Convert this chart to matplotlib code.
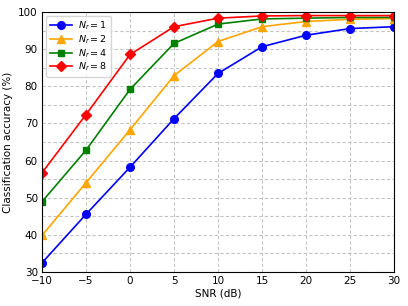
import matplotlib
matplotlib.use('Agg')
import matplotlib.pyplot as plt
from matplotlib.ticker import MultipleLocator

snr = [-10, -5, 0, 5, 10, 15, 20, 25, 30]
acc_nr1 = [32.4, 45.5, 58.2, 71.3, 83.5, 90.7, 93.8, 95.6, 96.1]
acc_nr2 = [39.8, 54.0, 68.3, 82.9, 92.1, 96.1, 97.5, 98.1, 98.3]
acc_nr4 = [48.9, 62.8, 79.2, 91.6, 96.8, 98.2, 98.4, 98.6, 98.6]
acc_nr8 = [56.7, 72.4, 88.6, 96.1, 98.4, 99.0, 99.1, 99.1, 99.1]
labels = [r'$N_r=1$', r'$N_r=2$', r'$N_r=4$', r'$N_r=8$']

plt.rcParams['font.size'] = 7.5
fig = plt.figure(figsize=(4.08, 3.06), dpi=100)
ax = fig.add_axes([0.103, 0.112, 0.863, 0.848])

ax.plot(snr, acc_nr1, 'o-', color='blue', lw=1.2, ms=5.5, label=labels[0])
ax.plot(snr, acc_nr2, '^-', color='orange', lw=1.2, ms=5.5, label=labels[1])
ax.plot(snr, acc_nr4, 's-', color='green', lw=1.2, ms=5, label=labels[2])
ax.plot(snr, acc_nr8, 'D-', color='red', lw=1.2, ms=5, label=labels[3])

ax.set_xlim(-10, 30)
ax.set_ylim(30, 100)
ax.xaxis.set_major_locator(MultipleLocator(5))
ax.yaxis.set_major_locator(MultipleLocator(10))
ax.yaxis.set_minor_locator(MultipleLocator(5))
ax.grid(True, which='both', linestyle=(0, (3, 2)), color='#c4c4c4', lw=0.8)
ax.tick_params(which='both', direction='in', length=0, pad=3)
ax.set_xlabel('SNR (dB)', labelpad=2)
ax.set_ylabel('Classification accuracy (%)', labelpad=4)
ax.legend(loc='upper left', fontsize=6.8, handlelength=2.4, labelspacing=0.12,
          borderaxespad=0.4, handletextpad=0.6, borderpad=0.4)

fig.savefig('out.png', dpi=100)
